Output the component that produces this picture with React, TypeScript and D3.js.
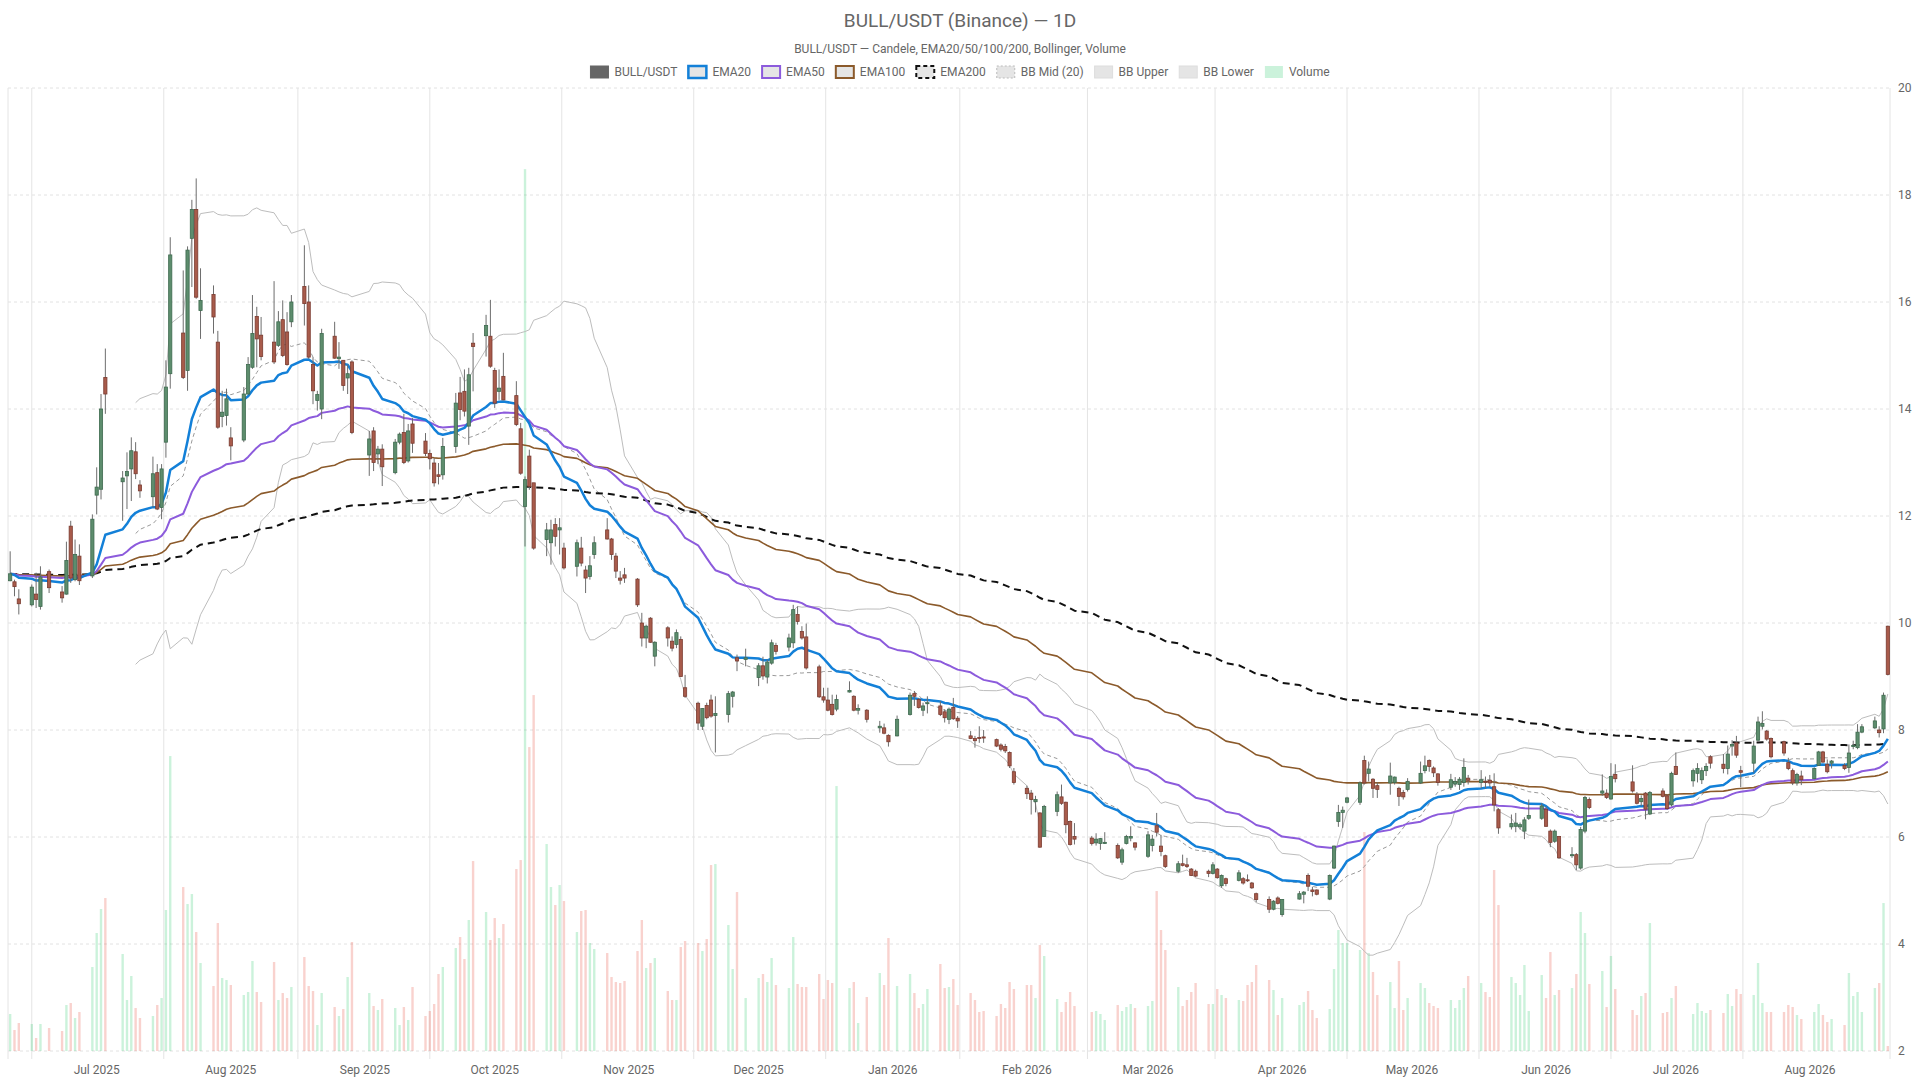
import React, { useEffect, useRef } from 'react';
import * as d3 from 'd3';

// [day of month, open, high, low, close, volume (K)]
type Row = [number, number, number, number, number, number];

const jun2025: Row[] = [
  [11, 10.79, 11.34, 10.78, 10.92, 37], [12, 10.77, 10.81, 10.5, 10.68, 21], [13, 10.45, 10.63, 10.16, 10.36, 28],
  [16, 10.34, 10.72, 10.31, 10.67, 27], [17, 10.54, 10.94, 10.28, 10.44, 13], [18, 10.31, 11.06, 10.25, 10.86, 27],
  [20, 10.96, 11.0, 10.56, 10.66, 23], [23, 10.58, 10.69, 10.38, 10.47, 20], [24, 10.54, 11.52, 10.53, 11.17, 46],
  [25, 11.81, 11.91, 10.75, 10.84, 48], [26, 10.81, 11.56, 10.78, 11.28, 33], [27, 11.25, 11.47, 10.71, 10.79, 39],
  [30, 10.88, 12.03, 10.84, 11.94, 84],
];
const jul2025: Row[] = [
  [1, 12.39, 12.91, 12.03, 12.54, 118], [2, 12.5, 14.28, 12.31, 14.0, 142], [3, 14.59, 15.13, 13.91, 14.28, 153],
  [7, 12.64, 12.84, 11.91, 12.71, 97], [8, 12.75, 13.19, 12.13, 12.83, 51], [9, 12.88, 13.47, 12.28, 13.22, 75],
  [10, 13.2, 13.38, 12.69, 12.79, 43], [11, 12.58, 12.67, 12.34, 12.47, 33], [14, 12.36, 13.11, 12.16, 12.79, 35],
  [15, 12.81, 12.97, 12.11, 12.13, 46], [16, 12.16, 12.97, 11.94, 12.88, 53], [17, 13.38, 14.91, 13.09, 14.41, 141],
  [18, 14.66, 17.21, 14.38, 16.88, 295], [21, 15.42, 16.59, 14.56, 14.59, 164], [22, 14.72, 17.04, 14.34, 16.97, 147],
  [23, 17.19, 17.91, 16.28, 17.73, 157], [24, 17.73, 18.31, 16.06, 16.09, 119], [25, 15.84, 16.63, 15.31, 16.03, 88],
  [28, 16.14, 16.31, 15.41, 15.72, 65], [29, 15.25, 15.46, 13.63, 13.66, 128], [30, 13.86, 14.34, 13.66, 13.94, 73],
  [31, 13.88, 14.38, 13.69, 14.19, 71],
];
const aug2025: Row[] = [
  [1, 13.46, 13.66, 13.04, 13.31, 66], [4, 13.42, 14.41, 13.38, 14.28, 56], [5, 14.28, 14.97, 14.27, 14.83, 59],
  [6, 14.78, 16.13, 14.75, 15.41, 90], [7, 15.73, 15.91, 14.78, 15.31, 59], [8, 15.38, 15.72, 14.91, 14.98, 49],
  [11, 15.25, 16.39, 14.84, 14.88, 89], [12, 15.19, 15.83, 15.16, 15.63, 51], [13, 15.67, 16.03, 14.97, 15.0, 58],
  [14, 15.44, 15.81, 14.81, 14.83, 53], [15, 15.63, 16.13, 15.53, 16.0, 64], [18, 16.29, 17.06, 15.56, 15.97, 94],
  [19, 16.0, 16.31, 14.94, 14.97, 65], [20, 14.83, 14.97, 14.09, 14.34, 60], [21, 14.16, 14.34, 13.97, 14.27, 26],
  [22, 14.0, 15.5, 13.81, 15.41, 58], [25, 15.36, 15.63, 14.94, 14.95, 44], [26, 14.94, 15.25, 14.75, 14.97, 35],
  [27, 14.91, 14.91, 14.34, 14.44, 42], [28, 14.58, 14.83, 14.28, 14.66, 74], [29, 14.88, 14.91, 13.53, 13.56, 109],
];
const sep2025: Row[] = [
  [2, 13.14, 13.59, 12.75, 13.44, 58], [3, 13.59, 13.66, 12.84, 13.0, 45], [4, 13.16, 13.31, 12.97, 13.25, 41],
  [5, 13.25, 13.34, 12.56, 12.92, 52], [8, 12.81, 13.44, 12.78, 13.38, 43], [9, 13.38, 13.56, 13.34, 13.53, 26],
  [10, 13.56, 13.91, 12.97, 13.0, 44], [11, 13.03, 13.72, 13.0, 13.59, 31], [12, 13.72, 13.83, 13.18, 13.36, 64],
  [15, 13.4, 13.55, 13.12, 13.17, 35], [16, 13.17, 13.24, 12.87, 13.07, 40], [17, 12.99, 13.08, 12.55, 12.62, 47],
  [18, 12.77, 12.99, 12.59, 12.74, 77], [19, 12.77, 13.46, 12.68, 13.3, 84], [22, 13.3, 14.3, 13.18, 14.11, 103],
  [23, 14.3, 14.6, 13.79, 13.99, 114], [24, 14.33, 14.74, 13.86, 13.96, 92], [25, 13.68, 14.77, 13.33, 14.64, 131],
  [26, 15.23, 15.42, 14.33, 15.17, 190], [29, 15.37, 15.76, 14.98, 15.56, 139], [30, 15.36, 16.04, 14.77, 14.8, 111],
];
const oct2025: Row[] = [
  [1, 14.72, 14.77, 14.02, 14.11, 133], [2, 14.33, 14.74, 14.17, 14.39, 113], [3, 14.61, 15.05, 14.17, 14.17, 127],
  [6, 14.25, 14.52, 13.68, 13.71, 182], [7, 13.63, 13.74, 12.77, 12.8, 191], [8, 12.18, 12.74, 11.43, 12.68, 882],
  [9, 13.12, 13.24, 12.49, 12.55, 304], [10, 12.62, 12.62, 11.37, 11.4, 356], [13, 11.56, 11.87, 11.25, 11.74, 207],
  [14, 11.5, 11.93, 11.09, 11.74, 164], [15, 11.84, 11.96, 11.43, 11.62, 146], [16, 11.74, 11.96, 11.28, 11.78, 166],
  [17, 11.4, 11.5, 11.0, 11.03, 150], [20, 11.06, 11.56, 10.87, 11.5, 119], [21, 11.4, 11.61, 11.06, 11.12, 140],
  [22, 10.99, 11.07, 10.56, 10.84, 141], [23, 10.87, 11.25, 10.81, 11.07, 108], [24, 11.28, 11.62, 11.2, 11.5, 102],
  [27, 11.74, 11.96, 11.56, 11.57, 98], [28, 11.57, 11.59, 11.18, 11.28, 74], [29, 11.25, 11.31, 10.84, 10.97, 69],
  [30, 10.84, 10.97, 10.72, 10.8, 68], [31, 10.9, 11.03, 10.75, 10.84, 70],
];
const nov2025: Row[] = [
  [3, 10.82, 10.84, 10.3, 10.34, 100], [4, 10.0, 10.19, 9.56, 9.72, 131], [5, 9.72, 9.97, 9.53, 9.94, 83],
  [6, 10.09, 10.11, 9.63, 9.64, 88], [7, 9.38, 9.66, 9.19, 9.64, 93], [10, 9.91, 9.94, 9.56, 9.72, 60],
  [11, 9.66, 9.75, 9.47, 9.53, 51], [12, 9.6, 9.88, 9.53, 9.82, 51], [13, 9.69, 9.75, 9.0, 9.0, 104],
  [14, 8.79, 9.03, 8.6, 8.63, 110], [17, 8.5, 8.53, 8.0, 8.13, 108], [18, 8.07, 8.41, 8.0, 8.4, 100],
  [19, 8.46, 8.51, 8.2, 8.23, 112], [20, 8.56, 8.66, 8.23, 8.26, 186], [21, 8.27, 8.63, 7.58, 8.31, 187],
  [24, 8.29, 8.73, 8.14, 8.68, 126], [25, 8.63, 8.73, 8.42, 8.71, 82], [26, 9.35, 9.41, 9.1, 9.29, 159],
  [28, 9.32, 9.52, 9.19, 9.35, 53],
];
const dec2025: Row[] = [
  [1, 8.98, 9.25, 8.82, 9.2, 73], [2, 9.2, 9.37, 8.94, 9.01, 77], [3, 8.99, 9.32, 8.87, 9.27, 69],
  [4, 9.25, 9.69, 9.22, 9.63, 93], [5, 9.58, 9.63, 9.41, 9.47, 66], [8, 9.55, 9.8, 9.47, 9.72, 63],
  [9, 9.63, 10.34, 9.53, 10.25, 114], [10, 10.16, 10.31, 9.97, 10.03, 67], [11, 9.84, 9.94, 9.69, 9.72, 64],
  [12, 9.74, 9.99, 9.13, 9.16, 64], [15, 9.18, 9.22, 8.6, 8.62, 77], [16, 8.62, 8.79, 8.51, 8.56, 52],
  [17, 8.56, 8.79, 8.35, 8.37, 71], [18, 8.48, 8.66, 8.27, 8.29, 68], [19, 8.39, 8.66, 8.35, 8.57, 265],
  [22, 8.71, 8.91, 8.7, 8.74, 63], [23, 8.63, 8.65, 8.35, 8.37, 69], [24, 8.37, 8.48, 8.29, 8.4, 28],
  [26, 8.37, 8.39, 8.14, 8.2, 54], [29, 8.04, 8.17, 7.95, 8.07, 78], [30, 8.04, 8.12, 7.92, 7.94, 66],
  [31, 7.9, 7.92, 7.69, 7.78, 113],
];
const jan2026: Row[] = [
  [2, 7.89, 8.27, 7.88, 8.2, 65], [5, 8.29, 8.7, 8.27, 8.65, 77], [6, 8.68, 8.73, 8.45, 8.63, 58],
  [7, 8.57, 8.6, 8.4, 8.42, 43], [8, 8.37, 8.51, 8.26, 8.45, 47], [9, 8.5, 8.63, 8.31, 8.51, 62],
  [12, 8.45, 8.54, 8.26, 8.29, 87], [13, 8.34, 8.39, 8.14, 8.23, 63], [14, 8.2, 8.42, 8.11, 8.39, 64],
  [15, 8.42, 8.6, 8.19, 8.21, 72], [16, 8.22, 8.26, 8.04, 8.17, 46], [19, 7.89, 7.98, 7.83, 7.84, 58],
  [20, 7.84, 7.89, 7.67, 7.8, 51], [21, 7.86, 8.07, 7.76, 7.85, 39], [22, 7.87, 8.0, 7.76, 7.85, 40],
  [25, 7.82, 7.84, 7.68, 7.7, 35], [26, 7.72, 7.75, 7.6, 7.64, 47], [27, 7.69, 7.74, 7.57, 7.61, 43],
  [28, 7.58, 7.6, 7.29, 7.33, 69], [29, 7.22, 7.29, 6.98, 7.02, 62],
];
const feb2026: Row[] = [
  [1, 6.91, 6.96, 6.71, 6.81, 66], [2, 6.82, 6.88, 6.42, 6.7, 66], [3, 6.66, 6.77, 6.46, 6.7, 53],
  [4, 6.45, 6.46, 5.8, 5.81, 106], [5, 6.01, 6.6, 6.0, 6.57, 95], [8, 6.48, 6.85, 6.39, 6.79, 52],
  [9, 6.75, 6.98, 6.6, 6.63, 39], [10, 6.65, 6.66, 6.07, 6.23, 49], [11, 6.29, 6.31, 5.84, 5.86, 59],
  [12, 6.01, 6.26, 5.86, 5.96, 45], [16, 5.98, 6.02, 5.84, 5.88, 39], [17, 5.89, 6.07, 5.84, 5.96, 40],
  [18, 5.88, 5.98, 5.76, 5.97, 37], [19, 5.88, 6.09, 5.87, 5.9, 31], [22, 5.84, 5.88, 5.59, 5.61, 46],
  [23, 5.53, 5.8, 5.48, 5.76, 40], [24, 5.88, 6.04, 5.86, 6.01, 44], [25, 5.98, 6.2, 5.92, 6.01, 47],
  [26, 5.89, 5.9, 5.75, 5.81, 43],
];
const mar2026: Row[] = [
  [1, 5.64, 6.11, 5.61, 6.04, 45], [2, 5.84, 6.04, 5.73, 5.96, 50], [3, 6.21, 6.45, 6.01, 6.09, 160],
  [4, 5.83, 6.04, 5.64, 5.73, 121], [5, 5.65, 5.67, 5.42, 5.45, 101], [8, 5.36, 5.55, 5.33, 5.5, 64],
  [9, 5.5, 5.67, 5.45, 5.47, 45], [10, 5.48, 5.61, 5.42, 5.45, 51], [11, 5.4, 5.42, 5.27, 5.28, 59],
  [12, 5.36, 5.39, 5.25, 5.27, 68], [15, 5.36, 5.39, 5.25, 5.32, 47], [16, 5.32, 5.53, 5.3, 5.48, 47],
  [17, 5.4, 5.42, 5.22, 5.24, 62], [18, 5.09, 5.3, 5.05, 5.28, 56], [19, 5.22, 5.24, 5.08, 5.13, 53],
  [22, 5.19, 5.38, 5.17, 5.33, 51], [23, 5.22, 5.25, 5.11, 5.14, 50], [24, 5.2, 5.3, 5.16, 5.19, 66],
  [25, 5.14, 5.16, 5.03, 5.05, 69], [26, 4.94, 4.96, 4.78, 4.83, 86], [29, 4.83, 4.89, 4.58, 4.65, 71],
  [30, 4.65, 4.82, 4.63, 4.8, 61], [31, 4.86, 4.89, 4.74, 4.76, 36],
];
const apr2026: Row[] = [
  [1, 4.55, 4.84, 4.51, 4.83, 53], [5, 4.84, 4.99, 4.83, 4.94, 46], [6, 4.93, 4.99, 4.76, 4.97, 49],
  [7, 5.28, 5.32, 4.99, 5.08, 60], [8, 5.01, 5.07, 4.89, 4.98, 41], [9, 5.01, 5.02, 4.91, 4.93, 33],
  [12, 4.84, 5.3, 4.82, 5.28, 42], [13, 5.42, 5.84, 5.4, 5.83, 82], [14, 6.29, 6.6, 6.19, 6.46, 121],
  [15, 6.46, 6.57, 6.17, 6.5, 108], [16, 6.65, 6.75, 6.63, 6.73, 108], [19, 6.65, 7.04, 6.6, 7.01, 101],
  [20, 7.43, 7.52, 6.98, 7.01, 219], [21, 7.19, 7.41, 7.04, 7.27, 98], [22, 7.08, 7.1, 6.73, 6.91, 79],
  [23, 6.96, 7.02, 6.73, 6.89, 56], [26, 7.01, 7.39, 6.79, 7.14, 69], [27, 7.02, 7.13, 6.98, 7.12, 43],
  [28, 6.91, 6.94, 6.58, 6.76, 90], [29, 6.83, 6.88, 6.7, 6.75, 41], [30, 6.89, 7.1, 6.85, 7.04, 53],
];
const may2026: Row[] = [
  [3, 7.01, 7.41, 6.99, 7.19, 68], [4, 7.24, 7.52, 7.19, 7.33, 63], [5, 7.43, 7.45, 7.22, 7.32, 48],
  [6, 7.29, 7.32, 7.12, 7.2, 45], [7, 7.18, 7.19, 6.96, 7.02, 43], [10, 6.93, 7.18, 6.88, 7.07, 51],
  [11, 6.99, 7.12, 6.94, 7.04, 43], [12, 6.98, 7.12, 6.88, 7.08, 51], [13, 7.02, 7.47, 6.94, 7.3, 63],
  [14, 7.1, 7.16, 6.98, 7.06, 75], [17, 7.02, 7.25, 6.91, 7.07, 68], [18, 7.04, 7.13, 6.91, 7.02, 59],
  [19, 7.06, 7.16, 6.94, 7.01, 54], [20, 6.94, 7.19, 6.48, 6.6, 181], [21, 6.51, 6.54, 6.06, 6.17, 146],
  [24, 6.19, 6.42, 6.14, 6.25, 74], [25, 6.2, 6.45, 6.09, 6.26, 68], [26, 6.19, 6.27, 6.14, 6.23, 56],
  [27, 6.11, 6.37, 5.96, 6.32, 86], [28, 6.35, 6.7, 6.32, 6.4, 40], [31, 6.35, 6.63, 6.32, 6.58, 76],
];
const jun2026: Row[] = [
  [1, 6.52, 6.57, 6.19, 6.2, 53], [2, 6.11, 6.14, 5.81, 5.9, 99], [3, 5.92, 6.14, 5.89, 6.11, 56],
  [4, 6.01, 6.02, 5.59, 5.61, 61], [7, 5.65, 5.81, 5.61, 5.67, 63], [8, 5.67, 5.7, 5.38, 5.48, 77],
  [9, 5.42, 6.19, 5.39, 6.14, 139], [10, 6.11, 6.77, 6.07, 6.74, 118], [11, 6.7, 6.74, 6.52, 6.55, 67],
  [14, 6.82, 7.17, 6.77, 6.86, 80], [15, 6.82, 6.89, 6.71, 6.74, 44], [16, 6.71, 7.38, 6.7, 7.13, 95],
  [17, 7.17, 7.36, 7.02, 7.09, 62], [21, 7.03, 7.34, 6.83, 6.86, 41], [22, 6.8, 6.84, 6.61, 6.63, 36],
  [23, 6.66, 6.78, 6.58, 6.72, 55], [24, 6.82, 6.84, 6.33, 6.52, 58], [25, 6.43, 6.86, 6.41, 6.83, 128],
  [28, 6.86, 6.91, 6.74, 6.76, 38], [29, 6.77, 6.8, 6.51, 6.53, 39], [30, 6.6, 7.22, 6.57, 7.19, 53],
];
const jul2026: Row[] = [
  [1, 7.32, 7.58, 7.16, 7.17, 65], [5, 7.05, 7.28, 6.94, 7.24, 37], [6, 7.19, 7.38, 7.02, 7.28, 48],
  [7, 7.07, 7.3, 6.99, 7.24, 40], [8, 7.24, 7.38, 7.14, 7.32, 38], [9, 7.5, 7.53, 7.28, 7.38, 41],
  [12, 7.36, 7.55, 7.19, 7.28, 38], [13, 7.28, 7.71, 7.17, 7.55, 57], [14, 7.7, 7.81, 7.52, 7.73, 45],
  [15, 7.76, 7.89, 7.48, 7.53, 62], [16, 7.24, 7.33, 6.93, 7.21, 57], [19, 7.38, 7.8, 7.2, 7.7, 56],
  [20, 7.81, 8.25, 7.78, 8.15, 88], [21, 8.07, 8.35, 8.01, 8.12, 48], [22, 7.98, 8.0, 7.8, 7.83, 39],
  [23, 7.84, 7.86, 7.47, 7.5, 39], [26, 7.78, 7.8, 7.52, 7.57, 39], [27, 7.39, 7.48, 7.25, 7.28, 46],
  [28, 7.24, 7.28, 6.97, 7.01, 44], [29, 7.01, 7.2, 6.96, 7.17, 36], [30, 7.14, 7.24, 6.97, 7.07, 32],
];
const aug2026: Row[] = [
  [2, 7.09, 7.3, 7.08, 7.28, 39], [3, 7.34, 7.61, 7.33, 7.59, 47], [4, 7.59, 7.61, 7.39, 7.4, 36],
  [5, 7.36, 7.45, 7.19, 7.22, 29], [6, 7.38, 7.44, 7.28, 7.42, 32], [9, 7.34, 7.38, 7.25, 7.28, 26],
  [10, 7.3, 7.73, 7.2, 7.57, 78], [11, 7.69, 7.8, 7.64, 7.71, 55], [12, 7.67, 8.11, 7.64, 7.96, 59],
  [13, 7.96, 8.11, 7.94, 8.06, 39], [16, 8.04, 8.25, 8.02, 8.17, 63], [17, 8.0, 8.07, 7.86, 7.95, 68],
  [18, 8.02, 8.7, 7.94, 8.65, 148], [19, 9.94, 9.95, 9.02, 9.04, 5],
];

// [year, month index, rows]
const monthBlocks: [number, number, Row[]][] = [
  [2025, 5, jun2025], [2025, 6, jul2025], [2025, 7, aug2025], [2025, 8, sep2025], [2025, 9, oct2025],
  [2025, 10, nov2025], [2025, 11, dec2025], [2026, 0, jan2026], [2026, 1, feb2026], [2026, 2, mar2026],
  [2026, 3, apr2026], [2026, 4, may2026], [2026, 5, jun2026], [2026, 6, jul2026], [2026, 7, aug2026],
];

const priceTicks = [2, 4, 6, 8, 10, 12, 14, 16, 18, 20];
const emaPeriods = [20, 50, 100, 200];

const TITLE = 'BULL/USDT (Binance) — 1D';
const SUBTITLE = 'BULL/USDT — Candele, EMA20/50/100/200, Bollinger, Volume';

const UP = '#5d8d6d';
const UP_EDGE = '#3e6a4f';
const DOWN = '#a85b4b';
const DOWN_EDGE = '#7a3b30';
const VOL_UP = 'rgba(46, 204, 113, 0.25)';
const VOL_DOWN = 'rgba(231, 76, 60, 0.25)';
const FONT = 'Roboto, "Liberation Sans", Arial, sans-serif';

interface Candle { date: Date; open: number; high: number; low: number; close: number; volume: number }

function ema(values: number[], n: number) {
  const k = 2 / (n + 1);
  let prev = values[0];
  return values.map((v, i) => (i === 0 ? v : (prev = v * k + prev * (1 - k), prev)));
}

function bollinger(values: number[], n = 20, mult = 2) {
  return values.map((_, i) => {
    if (i < n - 1) return null;
    const win = values.slice(i - n + 1, i + 1);
    const mean = d3.mean(win) as number;
    const sd = Math.sqrt(d3.mean(win, v => (v - mean) ** 2) as number);
    return { mid: mean, upper: mean + mult * sd, lower: mean - mult * sd };
  });
}

export default function App() {
  const ref = useRef<SVGSVGElement>(null);

  useEffect(() => {
    if (!ref.current) return;
    const svg = d3.select(ref.current);
    svg.selectAll('*').remove();

    const W = 1920;
    const m = { left: 8, right: 30, top: 88, bottom: 29 };
    const L = m.left, R = W - m.right, T = m.top, B = 1080 - m.bottom;

    const data: Candle[] = monthBlocks.flatMap(([yr, mo, rows]) =>
      rows.map(r => ({ date: new Date(Date.UTC(yr, mo, r[0])), open: r[1], high: r[2], low: r[3], close: r[4], volume: r[5] }))
    );
    const closes = data.map(d => d.close);
    const half = 12 * 3600 * 1000;

    const x = d3.scaleUtc()
      .domain([new Date(+data[0].date - half), new Date(+data[data.length - 1].date + half)])
      .range([L, R]);
    const dayW = x(new Date(Date.UTC(2025, 6, 2))) - x(new Date(Date.UTC(2025, 6, 1)));
    const y = d3.scaleLinear().domain([2, 20]).range([B, T]);
    const yVol = d3.scaleLinear().domain([0, (d3.max(data, d => d.volume) as number) * 1.092]).range([B, T]);

    // Grid
    const grid = svg.append('g');
    grid.selectAll('line.h').data(priceTicks).join('line')
      .attr('x1', L).attr('x2', R).attr('y1', d => y(d)).attr('y2', d => y(d))
      .attr('stroke', '#e2e2e2').attr('stroke-dasharray', '3,3');

    const monthEdges = d3.utcMonth.range(new Date(Date.UTC(2025, 5, 1)), new Date(Date.UTC(2026, 8, 1)));
    const mids = d3.pairs(monthEdges).map(([a, b]) => new Date((+a + +b) / 2))
      .filter(d => x(d) > L + 2 && x(d) < R - 20);
    grid.selectAll('line.v').data(mids).join('line')
      .attr('x1', d => x(d)).attr('x2', d => x(d)).attr('y1', T).attr('y2', B + 8)
      .attr('stroke', '#e4e4e4');
    grid.selectAll('line.e').data([L, R]).join('line')
      .attr('x1', d => d).attr('x2', d => d).attr('y1', T).attr('y2', B + 8)
      .attr('stroke', '#e4e4e4');

    // Axis labels
    svg.append('g').selectAll('text').data(priceTicks).join('text')
      .attr('x', R + 8).attr('y', d => y(d)).attr('dy', '0.35em')
      .attr('font-size', 12).attr('fill', '#666').attr('font-family', FONT)
      .text(d => d);

    const monthTicks = d3.utcMonth.range(new Date(Date.UTC(2025, 6, 1)), new Date(Date.UTC(2026, 8, 1)));
    svg.append('g').selectAll('text').data(monthTicks).join('text')
      .attr('x', d => x(d)).attr('y', B + 19).attr('dy', '0.35em').attr('text-anchor', 'middle')
      .attr('font-size', 12).attr('fill', '#666').attr('font-family', FONT)
      .text(d => d3.utcFormat('%b %Y')(d));

    // Volume
    const vw = dayW * 0.55;
    svg.append('g').selectAll('rect').data(data).join('rect')
      .attr('x', d => x(d.date) - vw / 2).attr('width', vw)
      .attr('y', d => yVol(d.volume)).attr('height', d => B - yVol(d.volume))
      .attr('fill', d => (d.close >= d.open ? VOL_UP : VOL_DOWN));

    // Bollinger
    const bb = bollinger(closes);
    const bbPts = data.map((d, i) => ({ date: d.date, b: bb[i] })).filter(p => p.b);
    const bbLine = (key: 'mid' | 'upper' | 'lower') => d3.line<any>().x(p => x(p.date)).y(p => y(p.b[key]))(bbPts);
    svg.append('path').attr('d', bbLine('lower')).attr('fill', 'none').attr('stroke', '#bdbdbd').attr('stroke-width', 1);
    svg.append('path').attr('d', bbLine('upper')).attr('fill', 'none').attr('stroke', '#bdbdbd').attr('stroke-width', 1);
    svg.append('path').attr('d', bbLine('mid')).attr('fill', 'none').attr('stroke', '#9a9a9a').attr('stroke-width', 1)
      .attr('stroke-dasharray', '4,3');

    // EMAs (drawn from the slowest up)
    const emaStyles: Record<number, { color: string; width: number; dash?: string }> = {
      200: { color: '#111', width: 2, dash: '7,5' },
      100: { color: '#8b5a2b', width: 1.6 },
      50: { color: '#8c5bdc', width: 2 },
      20: { color: '#1380d8', width: 2.5 },
    };
    [...emaPeriods].reverse().forEach(n => {
      const vals = ema(closes, n);
      const st = emaStyles[n];
      svg.append('path')
        .attr('d', d3.line<number>().x((_, i) => x(data[i].date)).y(v => y(v))(vals))
        .attr('fill', 'none').attr('stroke', st.color).attr('stroke-width', st.width)
        .attr('stroke-dasharray', st.dash ?? null).attr('stroke-linejoin', 'round');
    });

    // Candles
    const bw = dayW * 0.74;
    const cg = svg.append('g').selectAll('g').data(data).join('g');
    cg.append('line')
      .attr('x1', d => x(d.date)).attr('x2', d => x(d.date))
      .attr('y1', d => y(d.high)).attr('y2', d => y(d.low))
      .attr('stroke', '#6d6d6d').attr('stroke-width', 1);
    cg.append('rect')
      .attr('x', d => x(d.date) - bw / 2).attr('width', bw)
      .attr('y', d => y(Math.max(d.open, d.close)))
      .attr('height', d => Math.max(1, Math.abs(y(d.open) - y(d.close))))
      .attr('fill', d => (d.close >= d.open ? UP : DOWN))
      .attr('stroke', d => (d.close >= d.open ? UP_EDGE : DOWN_EDGE)).attr('stroke-width', 0.8);

    // Title & subtitle
    svg.append('text').attr('x', W / 2).attr('y', 27).attr('text-anchor', 'middle')
      .attr('font-size', 19).attr('fill', '#666').attr('font-family', FONT).text(TITLE);
    svg.append('text').attr('x', W / 2).attr('y', 53).attr('text-anchor', 'middle')
      .attr('font-size', 12).attr('fill', '#666').attr('font-family', FONT).text(SUBTITLE);

    // Legend
    const legendItems = [
      { label: 'BULL/USDT', fill: '#666', stroke: '#666', sw: 1 },
      { label: 'EMA20', fill: 'rgba(0,0,0,0.1)', stroke: emaStyles[20].color, sw: 2.5 },
      { label: 'EMA50', fill: 'rgba(0,0,0,0.1)', stroke: emaStyles[50].color, sw: 2 },
      { label: 'EMA100', fill: 'rgba(0,0,0,0.1)', stroke: emaStyles[100].color, sw: 2 },
      { label: 'EMA200', fill: 'rgba(0,0,0,0.1)', stroke: '#111', sw: 2, dash: '4,3' },
      { label: 'BB Mid (20)', fill: 'rgba(0,0,0,0.1)', stroke: '#bbb', sw: 1, dash: '2,2' },
      { label: 'BB Upper', fill: 'rgba(0,0,0,0.1)', stroke: '#ddd', sw: 1 },
      { label: 'BB Lower', fill: 'rgba(0,0,0,0.1)', stroke: '#ddd', sw: 1 },
      { label: 'Volume', fill: VOL_UP, stroke: 'none', sw: 0 },
    ];
    const lg = svg.append('g');
    const boxW = 18, boxH = 12, gap = 6, pad = 11, ly = 72;
    const items = lg.selectAll('g').data(legendItems).join('g');
    items.append('rect')
      .attr('width', boxW).attr('height', boxH).attr('y', ly - boxH / 2)
      .attr('fill', d => d.fill).attr('stroke', d => d.stroke).attr('stroke-width', d => d.sw)
      .attr('stroke-dasharray', d => (d as any).dash ?? null);
    items.append('text')
      .attr('x', boxW + gap).attr('y', ly).attr('dy', '0.35em')
      .attr('font-size', 12).attr('fill', '#666').attr('font-family', FONT)
      .text(d => d.label);
    const widths: number[] = [];
    items.each(function () {
      const t = d3.select(this).select('text').node() as SVGTextElement;
      widths.push(boxW + gap + t.getComputedTextLength());
    });
    const total = d3.sum(widths) + pad * (widths.length - 1);
    let cx = W / 2 - total / 2;
    items.attr('transform', (_, i) => {
      const tx = cx;
      cx += widths[i] + pad;
      return `translate(${tx},0)`;
    });
  }, []);

  return (
    <div style={{ position: 'absolute', left: 0, top: 0, width: 1920, height: 1080, background: '#fff' }}>
      <svg ref={ref} width={1920} height={1080} style={{ display: 'block' }} />
    </div>
  );
}
